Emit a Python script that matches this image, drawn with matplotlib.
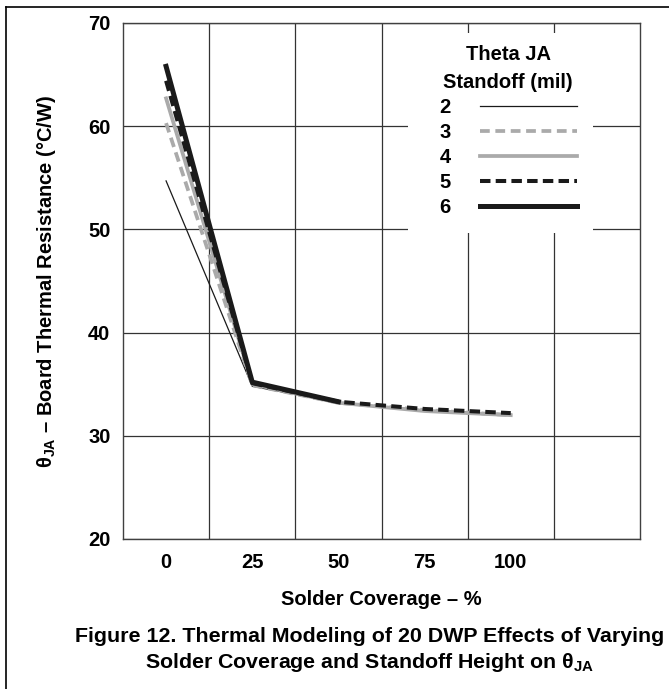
import numpy as np
import matplotlib
matplotlib.use("Agg")
import matplotlib.pyplot as plt
from matplotlib.lines import Line2D
from matplotlib.patches import Rectangle

plt.rcParams['font.family'] = ['Liberation Sans', 'DejaVu Sans']
plt.rcParams['font.weight'] = 'bold'
plt.rcParams['mathtext.fontset'] = 'custom'
plt.rcParams['mathtext.rm'] = 'Liberation Sans'
plt.rcParams['mathtext.it'] = 'Liberation Sans:italic'
plt.rcParams['mathtext.bf'] = 'Liberation Sans:bold'

# solder coverage (%) and theta JA (C/W) for each standoff height (mil)
coverage = [0, 25, 50, 75, 100]
standoffs = ["2", "3", "4", "5", "6"]
theta_2 = [54.7, 34.8, 33.2, 32.5, 32.1]
theta_3 = [60.3, 34.9, 33.2, 32.5, 32.0]
theta_4 = [62.7, 35.0, 33.2, 32.4, 32.0]
theta_5 = [64.4, 35.1, 33.3, 32.6, 32.2]
theta_6 = [65.8, 35.2, 33.3]

series = [theta_2, theta_3, theta_4, theta_5, theta_6]
colors = ["#1a1a1a", "#aaaaaa", "#aaaaaa", "#1a1a1a", "#1a1a1a"]
widths = [0.9, 2.7, 2.7, 2.9, 3.6]
styles = ["-", (0, (2.6, 1.5)), "-", (0, (2.6, 1.3)), "-"]

fs = 14.5
fig = plt.figure(figsize=(6.69, 6.89), dpi=100)
ax = fig.add_axes([123 / 669, 1 - 539 / 689, 517 / 669, 516 / 689])

for vals, lab, c, lw, ls in zip(series, standoffs, colors, widths, styles):
    ax.plot(coverage[:len(vals)], vals, color=c, lw=lw, linestyle=ls, label=lab,
            zorder=2)

ax.set_xlim(-12.5, 137.5)
ax.set_ylim(20, 70)
ax.set_xticks(coverage)
ax.set_xticks([12.5, 37.5, 62.5, 87.5, 112.5], minor=True)
ax.set_yticks([20, 30, 40, 50, 60, 70])
ax.set_axisbelow(True)
ax.grid(which='minor', axis='x', color='#333333', lw=0.9)
ax.grid(which='major', axis='y', color='#333333', lw=0.9)
ax.tick_params(which='both', length=0)
ax.tick_params(axis='y', pad=9, labelsize=fs)
ax.tick_params(axis='x', pad=10, labelsize=fs)
for sp in ax.spines.values():
    sp.set_color('#404040')
    sp.set_linewidth(1.0)

ax.set_xlabel("Solder Coverage – %", fontsize=fs, fontweight='bold', labelpad=13)
ax.set_ylabel(r"$\mathrm{\theta}_{\mathbf{JA}}$ – Board Thermal Resistance (°C/W)",
              fontsize=fs, fontweight='bold', labelpad=22)

# white area behind the legend
ax.add_patch(Rectangle(((408 - 123) / 517, (539 - 233) / 516), 185 / 517, 200 / 516,
                       transform=ax.transAxes, facecolor='white', edgecolor='none',
                       zorder=1))
leg = ax.legend(title="Theta JA\nStandoff (mil)", loc='upper center',
                bbox_to_anchor=(0.745, 0.976), frameon=False, markerfirst=False,
                fontsize=fs, title_fontsize=fs, handlelength=4.8,
                handletextpad=1.45, labelspacing=0.3, borderpad=0)
leg.get_title().set_fontweight('bold')
leg.get_title().set_multialignment('center')
leg.get_title().set_linespacing(1.55)

# page frame
fig.add_artist(Line2D([6 / 669, 6 / 669], [0, 1 - 7 / 689], transform=fig.transFigure,
                      color='black', lw=1.2))
fig.add_artist(Line2D([6 / 669, 1], [1 - 7 / 689, 1 - 7 / 689], transform=fig.transFigure,
                      color='black', lw=1.2))

cap_fs = 15.4
fig.text(370 / 669, 1 - 636 / 689, "Figure 12. Thermal Modeling of 20 DWP Effects of Varying",
         ha='center', va='center', fontsize=cap_fs, fontweight='bold')
fig.text(370 / 669, 1 - 662 / 689,
         r"Solder Coverage and Standoff Height on $\mathrm{\theta}_{\mathbf{JA}}$",
         ha='center', va='center', fontsize=cap_fs, fontweight='bold')

fig.savefig("out.png", dpi=100)
